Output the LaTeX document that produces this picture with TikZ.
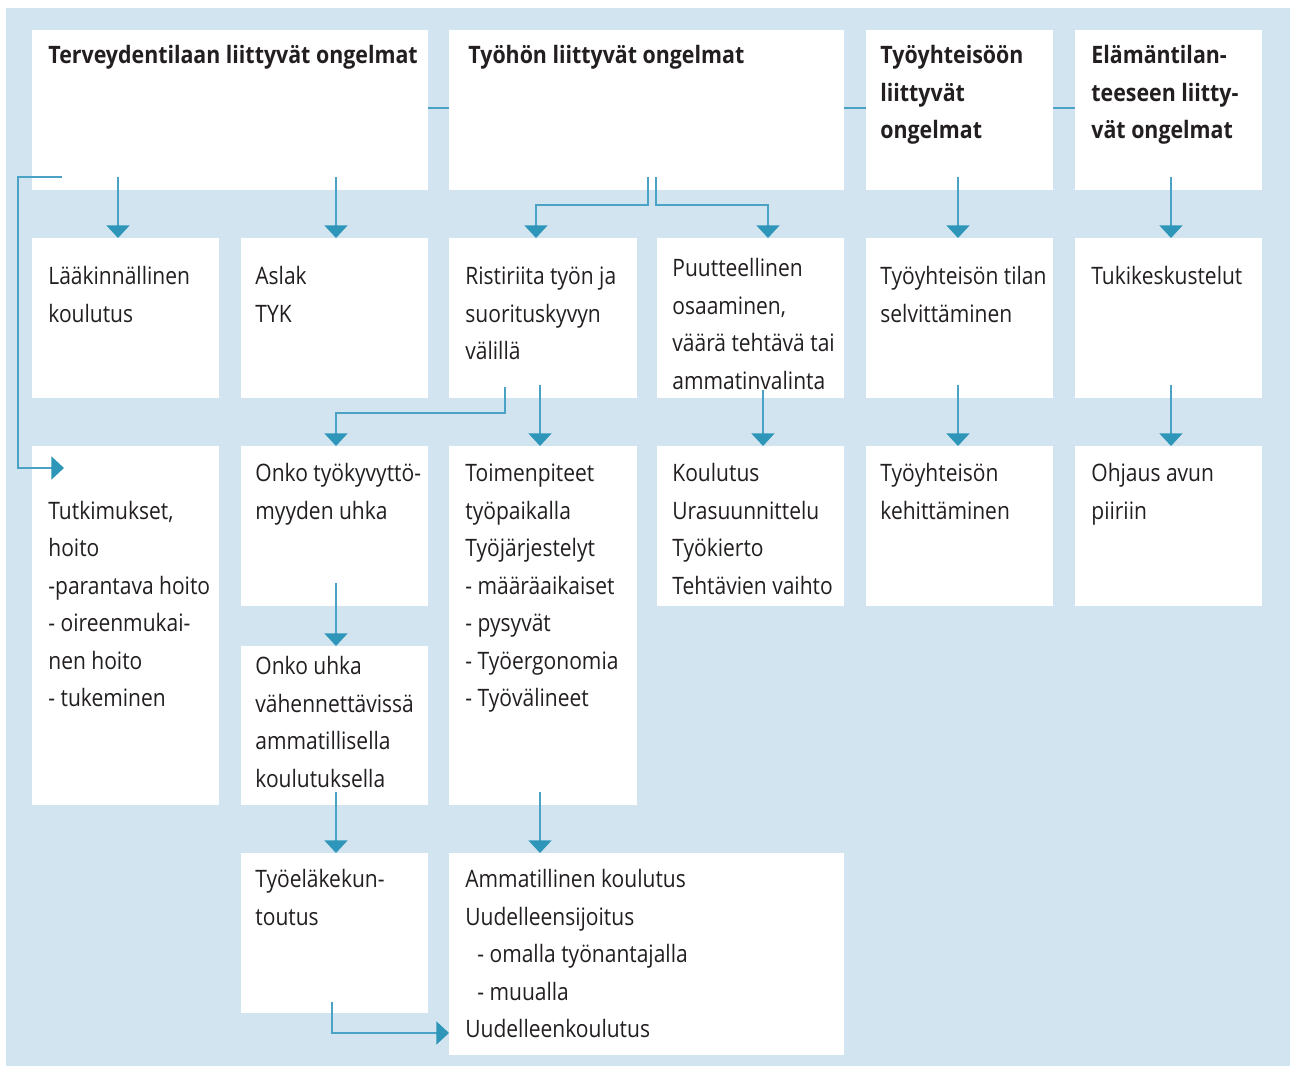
\documentclass[tikz,border=0pt]{standalone}
\usepackage{fontspec}
\setmainfont{Open Sans}[FakeStretch=0.875, BoldFeatures={FakeStretch=0.89}]
\usepackage{xcolor}
\usepackage{tikz}
\usetikzlibrary{arrows.meta, calc}
\definecolor{backdrop}{RGB}{210,228,239}
\definecolor{linkblue}{RGB}{74,163,196}
\definecolor{tipblue}{RGB}{46,150,185}
\definecolor{ink}{RGB}{35,31,32}
\tikzstyle{panel} = [rectangle, fill=white, anchor=north west, inner sep=0pt, outer sep=0pt, minimum width=93.5pt, minimum height=80pt]
\tikzstyle{txt} = [anchor=north west, inner sep=0pt, align=left, text=ink, font=\fontsize{12}{18.75}\selectfont]
\tikzstyle{head} = [txt, font=\fontsize{12}{18.75}\selectfont\bfseries]
\tikzstyle{link} = [draw=linkblue, line width=0.6pt]
\tikzstyle{flow} = [link, -{Triangle[width=11.5pt, length=6.3pt, color=tipblue]}]

\begin{document}
\begin{tikzpicture}[x=0.5pt, y=-0.5pt]
    \useasboundingbox (0,0) rectangle (1290,1066);
    \fill[backdrop] (6,8) rectangle (1290,1066);

    % Problem areas
    \node[panel, minimum width=198pt] (health) at (32,30) {};
    \node[panel, minimum width=197.5pt] (work) at (449,30) {};
    \node[panel] (community) at (866,30) {};
    \node[panel] (life) at (1075,30) {};
    % Second row
    \node[panel] (medical) at (32,238) {};
    \node[panel] (aslak) at (241,238) {};
    \node[panel, minimum width=94pt] (conflict) at (449,238) {};
    \node[panel] (skills) at (657,238) {};
    \node[panel] (survey) at (866,238) {};
    \node[panel] (support) at (1075,238) {};
    % Third row
    \node[panel, minimum height=179.5pt] (care) at (32,446) {};
    \node[panel] (threat) at (241,446) {};
    \node[panel, minimum width=94pt, minimum height=179.5pt] (measures) at (449,446) {};
    \node[panel] (training) at (657,446) {};
    \node[panel] (develop) at (866,446) {};
    \node[panel] (guidance) at (1075,446) {};
    % Lower rows
    \node[panel, minimum height=79.5pt] (reduce) at (241,646) {};
    \node[panel] (rehab) at (241,853) {};
    \node[panel, minimum width=197.5pt, minimum height=101pt] (retrain) at (449,853) {};

    % Texts
    \node[head] (health-t) at ($(health.north west)+(16,7)$) {\strut Terveydentilaan liittyvät ongelmat};
    \node[head] (work-t) at ($(work.north west)+(19,7)$) {\strut Työhön liittyvät ongelmat};
    \node[head] (community-t) at ($(community.north west)+(14,7)$) {\strut Työyhteisöön\\liittyvät\\ongelmat};
    \node[head] (life-t) at ($(life.north west)+(16,7)$) {\strut Elämäntilan-\\teeseen liitty-\\vät ongelmat};

    \node[txt] (medical-t) at ($(medical.north west)+(16,20)$) {\strut Lääkinnällinen\\koulutus};
    \node[txt] (aslak-t) at ($(aslak.north west)+(14,20)$) {\strut Aslak\\TYK};
    \node[txt] (conflict-t) at ($(conflict.north west)+(16,20)$) {\strut Ristiriita työn ja\\suorituskyvyn\\välillä};
    \node[txt] (skills-t) at ($(skills.north west)+(15,12)$) {\strut Puutteellinen\\osaaminen,\\väärä tehtävä tai\\ammatinvalinta};
    \node[txt] (survey-t) at ($(survey.north west)+(14,20)$) {\strut Työyhteisön tilan\\selvittäminen};
    \node[txt] (support-t) at ($(support.north west)+(16,20)$) {\strut Tukikeskustelut};

    \node[txt] (care-t) at ($(care.north west)+(16,46.5)$) {\strut Tutkimukset,\\hoito\\-parantava hoito\\- oireenmukai-\\nen hoito\\- tukeminen};
    \node[txt] (threat-t) at ($(threat.north west)+(14,9)$) {\strut Onko työkyvyttö-\\myyden uhka};
    \node[txt] (measures-t) at ($(measures.north west)+(16,9)$) {\strut Toimenpiteet\\työpaikalla\\Työjärjestelyt\\- määräaikaiset\\- pysyvät\\- Työergonomia\\- Työvälineet};
    \node[txt] (training-t) at ($(training.north west)+(15,9)$) {\strut Koulutus\\Urasuunnittelu\\Työkierto\\Tehtävien vaihto};
    \node[txt] (develop-t) at ($(develop.north west)+(14,9)$) {\strut Työyhteisön\\kehittäminen};
    \node[txt] (guidance-t) at ($(guidance.north west)+(16,9)$) {\strut Ohjaus avun\\piiriin};

    \node[txt] (reduce-t) at ($(reduce.north west)+(14,2)$) {\strut Onko uhka\\vähennettävissä\\ammatillisella\\koulutuksella};
    \node[txt] (rehab-t) at ($(rehab.north west)+(14,8)$) {\strut Työeläkekun-\\toutus};
    \node[txt] (retrain-t) at ($(retrain.north west)+(16,8)$) {\strut Ammatillinen koulutus\\Uudelleensijoitus\\\hspace*{6pt}- omalla työnantajalla\\\hspace*{6pt}- muualla\\Uudelleenkoulutus};

    % Links between the problem areas
    \draw[link] ($(health.east)+(0,-2)$) -- ($(work.west)+(0,-2)$);
    \draw[link] ($(work.east)+(0,-2)$) -- ($(community.west)+(0,-2)$);
    \draw[link] ($(community.east)+(0,-2)$) -- ($(life.west)+(0,-2)$);

    % Arrows from the first row
    \draw[flow] ($(health.south -| medical.north)+(-7.5,-13)$) -- ($(medical.north)+(-7.5,0)$);
    \draw[flow] ($(health.south -| aslak.north)+(1.5,-13)$) -- ($(aslak.north)+(1.5,0)$);
    \draw[flow] ($(health.south west)+(30,-13)$) -- ++(-44,0) |- ($(care.north west)+(32,22)$);
    \draw[flow] ($(work.south)+(1.5,-13)$) |- ($(conflict.north)+(-7,-33)$) -- ($(conflict.north)+(-7,0)$);
    \draw[flow] ($(work.south)+(9.5,-13)$) |- ($(skills.north)+(17.5,-33)$) -- ($(skills.north)+(17.5,0)$);
    \draw[flow] ($(community.south)+(-1.5,-13)$) -- ($(survey.north)+(-1.5,0)$);
    \draw[flow] ($(life.south)+(2.5,-13)$) -- ($(support.north)+(2.5,0)$);

    % Arrows from the second row
    \draw[flow] ($(conflict.south)+(-38,-11)$) |- ($(threat.north)+(1.5,-33)$) -- ($(threat.north)+(1.5,0)$);
    \draw[flow] ($(conflict.south)+(-3,-13)$) -- ($(measures.north)+(-3,0)$);
    \draw[flow] ($(skills.south)+(12.5,-8)$) -- ($(training.north)+(12.5,0)$);
    \draw[flow] ($(survey.south)+(-1.5,-13)$) -- ($(develop.north)+(-1.5,0)$);
    \draw[flow] ($(support.south)+(2.5,-13)$) -- ($(guidance.north)+(2.5,0)$);

    % Arrows further down
    \draw[flow] ($(threat.south)+(1.5,-23)$) -- ($(reduce.north)+(1.5,0)$);
    \draw[flow] ($(reduce.south)+(1.5,-13)$) -- ($(rehab.north)+(1.5,0)$);
    \draw[flow] ($(measures.south)+(-3,-13)$) -- ($(measures.south |- retrain.north)+(-3,0)$);
    \draw[flow] ($(rehab.south)+(-2.5,-11)$) |- ($(retrain.north west)+(0,180)$);
\end{tikzpicture}
\end{document}
